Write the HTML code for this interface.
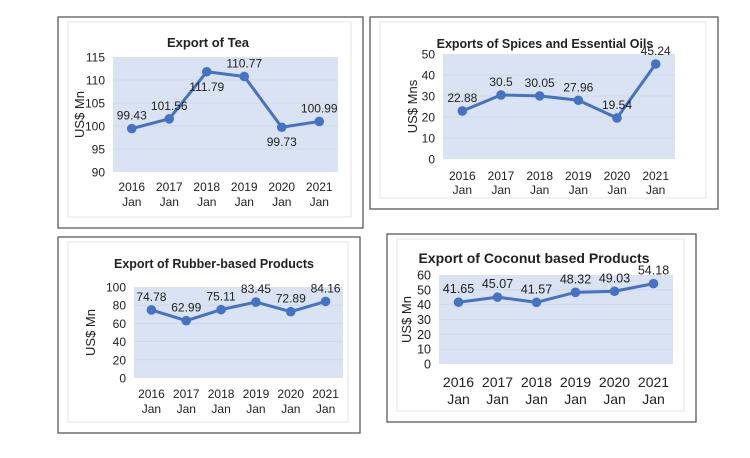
<!DOCTYPE html>
<html><head><meta charset="utf-8"><style>
body{margin:0;background:#fff;width:750px;height:458px;overflow:hidden;font-family:"Liberation Sans",Arial,sans-serif}
svg{display:block}
text{font-family:"Liberation Sans",Arial,sans-serif;fill:#222}
</style></head><body>
<svg id="s" width="750" height="458"></svg>
<script>
const years=["2016","2017","2018","2019","2020","2021"];
const teaValues=[99.43,101.56,111.79,110.77,99.73,100.99];
const teaTicks=[90,95,100,105,110,115];
const spiceValues=[22.88,30.5,30.05,27.96,19.54,45.24];
const spiceTicks=[0,10,20,30,40,50];
const rubberValues=[74.78,62.99,75.11,83.45,72.89,84.16];
const rubberTicks=[0,20,40,60,80,100];
const coconutValues=[41.65,45.07,41.57,48.32,49.03,54.18];
const coconutTicks=[0,10,20,30,40,50,60];
const teaBelow=[false,false,true,false,true,false];

const NS="http://www.w3.org/2000/svg";
const svg=document.getElementById('s');
function mk(tag,attrs,parent,txt){const e=document.createElementNS(NS,tag);for(const k in attrs)e.setAttribute(k,attrs[k]);if(txt!==undefined)e.textContent=txt;(parent||svg).appendChild(e);return e;}

function chart(c){
  const g=mk('g',{});
  
  
  const b=mk('rect',{x:c.box[0],y:c.box[1],width:c.box[2],height:c.box[3],fill:'#fff',stroke:'#5a5a5a','stroke-width':1.3},g);
  
  const ib=mk('rect',{x:c.box[0]+10,y:c.box[1]+5,width:c.box[2]-22,height:c.box[3]-16,fill:'none',stroke:'#e6e6e6','stroke-width':1},g);
  
  const [L,T,R,B]=c.plot;
  const p=mk('rect',{x:L,y:T,width:R-L,height:B-T,fill:'#dae3f3'},g);
  
  const min=c.ticks[0],max=c.ticks[c.ticks.length-1];
  const y=v=>B-(v-min)/(max-min)*(B-T);
  const bw=(R-L)/years.length;
  const x=i=>L+bw*(i+0.5);
  c.ticks.forEach(t=>{
    if(t!==min&&t!==max){const gl=mk('line',{x1:L,x2:R,y1:y(t),y2:y(t),stroke:'#cdd6e6','stroke-width':0.8},g);}
    const tl=mk('text',{x:L-8,y:y(t)+4.5,'text-anchor':'end','font-size':c.fs},g,String(t));
    
  });
  const yt=mk('text',{x:c.ytx,y:(T+B)/2,'text-anchor':'middle','font-size':13,transform:`rotate(-90 ${c.ytx} ${(T+B)/2})`},g,c.ytitle);
  
  const tt=mk('text',{x:c.tx,y:c.ty,'text-anchor':'middle','font-size':c.tfs,'font-weight':'bold'},g,c.title);
  
  years.forEach((yr,i)=>{
    const a=mk('text',{x:x(i),y:c.xy1,'text-anchor':'middle','font-size':c.xfs},g,yr);
    
    const m=mk('text',{x:x(i),y:c.xy2,'text-anchor':'middle','font-size':c.xfs},g,'Jan');
    
  });
  const ln=mk('polyline',{points:c.vals.map((v,i)=>x(i)+','+y(v)).join(' '),fill:'none',stroke:'#4472c4','stroke-width':3,'stroke-linejoin':'round'},g);
  
  c.vals.forEach((v,i)=>{
    const d=mk('circle',{cx:x(i),cy:y(v),r:4.8,fill:'#4472c4'},g);
    
    const below=c.below&&c.below[i];
    const lb=mk('text',{x:x(i),y:below?y(v)+19:y(v)-9,'text-anchor':'middle','font-size':c.fs},g,String(v));
    
  });
}
chart({name:'tea-chart',box:[58,17,305,211],plot:[113,57,338,172],ticks:teaTicks,vals:teaValues,below:teaBelow,title:'Export of Tea',tx:208,ty:47,tfs:13,fs:12,xfs:12,xy1:191,xy2:206,ytitle:'US$ Mn',ytx:84});
chart({name:'spices-chart',box:[370,17,348,192],plot:[443,54,675,159],ticks:spiceTicks,vals:spiceValues,title:'Exports of Spices and Essential Oils',tx:545,ty:48,tfs:12.5,fs:12,xfs:12,xy1:180,xy2:194,ytitle:'US$ Mns',ytx:417});
chart({name:'rubber-chart',box:[58,237,302,196],plot:[134,287,343,378],ticks:rubberTicks,vals:rubberValues,title:'Export of Rubber-based Products',tx:214,ty:268,tfs:12.5,fs:12,xfs:12,xy1:398,xy2:413,ytitle:'US$ Mn',ytx:95});
chart({name:'coconut-chart',box:[387,234,309,188],plot:[439,275,673,364],ticks:coconutTicks,vals:coconutValues,title:'Export of Coconut based Products',tx:534,ty:263,tfs:14,fs:12.5,xfs:14,xy1:387,xy2:404,ytitle:'US$ Mn',ytx:411});
</script>
</body></html>
